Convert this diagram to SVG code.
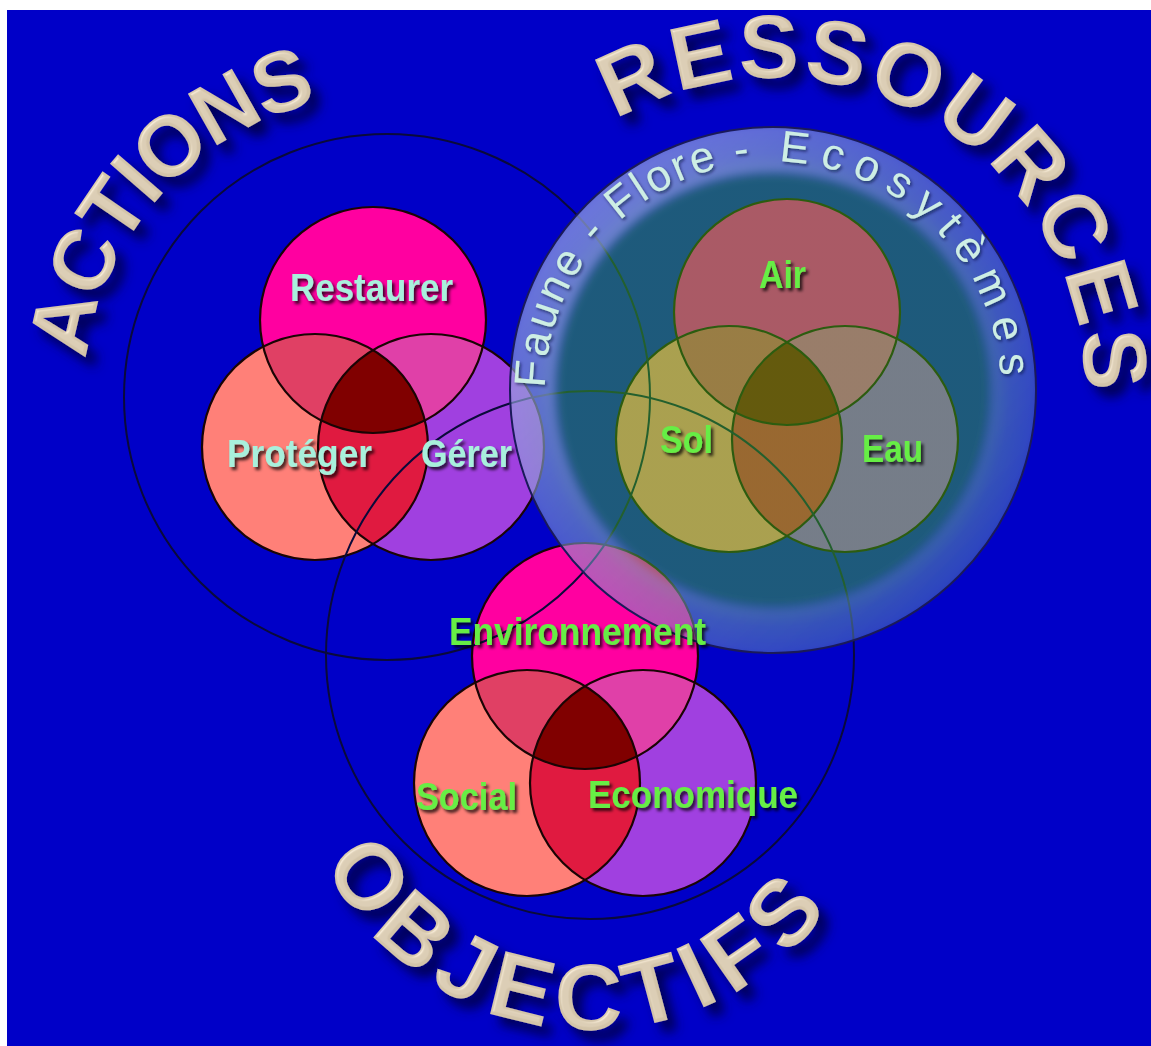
<svg xmlns="http://www.w3.org/2000/svg" width="1151" height="1046" viewBox="0 0 1151 1046">
<defs>
<style>
.c1{fill:#FF00A0}.c2{fill:#FF8078}.c3{fill:#A040E0}
.c12{fill:#E04064}.c13{fill:#E040A8}.c23{fill:#E01A40}.c123{fill:#800000}
.vs{fill:none;stroke:#1a0404;stroke-width:2.2}
.big{fill:none;stroke:#0a0a3a;stroke-width:2}
.title{font-family:"Liberation Sans",Arial,sans-serif;font-weight:bold;fill:#D3C4A9;filter:url(#emboss)}
.lab{font-family:"Liberation Sans",Arial,sans-serif;font-weight:bold;font-size:38px;text-anchor:middle;filter:url(#lshadow)}
.la{fill:#A8F0DC}.lg{fill:#66EE44}
.faune{font-family:"Liberation Sans",Arial,sans-serif;font-size:44px;fill:#CDEEE4;filter:url(#fshadow)}
</style>
<clipPath id="cT"><circle cx="0" cy="0" r="113"/></clipPath>
<clipPath id="cL"><circle cx="-58" cy="127" r="113"/></clipPath>
<clipPath id="clipGlobe"><circle cx="773" cy="390" r="263"/></clipPath>
<radialGradient id="glassTint" cx="0.5" cy="0.5" r="0.5">
<stop offset="0" stop-color="#42C81E" stop-opacity="0.45"/>
<stop offset="0.8" stop-color="#42C81E" stop-opacity="0.45"/>
<stop offset="0.9" stop-color="#42C81E" stop-opacity="0.25"/>
<stop offset="1" stop-color="#42C81E" stop-opacity="0.15"/>
</radialGradient>
<linearGradient id="rimGrad" x1="0" y1="0" x2="1" y2="1">
<stop offset="0" stop-color="#B4B4FF" stop-opacity="0.65"/>
<stop offset="0.5" stop-color="#8C96F0" stop-opacity="0.45"/>
<stop offset="1" stop-color="#5A78DC" stop-opacity="0.35"/>
</linearGradient>
<filter id="soft" x="-10%" y="-10%" width="120%" height="120%"><feGaussianBlur stdDeviation="5"/></filter>
<filter id="emboss" x="-20%" y="-20%" width="150%" height="150%">
<feGaussianBlur in="SourceAlpha" stdDeviation="6" result="b"/>
<feOffset in="b" dx="9" dy="10" result="ob"/>
<feFlood flood-color="#000038" flood-opacity="0.85"/>
<feComposite in2="ob" operator="in" result="shadow"/>
<feGaussianBlur in="SourceAlpha" stdDeviation="1.6" result="b2"/>
<feSpecularLighting in="b2" surfaceScale="3" specularConstant="0.45" specularExponent="14" lighting-color="#ffffff" result="spec">
<feDistantLight azimuth="225" elevation="40"/>
</feSpecularLighting>
<feComposite in="spec" in2="SourceAlpha" operator="in" result="specIn"/>
<feComposite in="SourceGraphic" in2="specIn" operator="arithmetic" k1="0" k2="1" k3="0.6" k4="0" result="lit"/>
<feMerge><feMergeNode in="shadow"/><feMergeNode in="lit"/></feMerge>
</filter>
<filter id="lshadow" x="-20%" y="-30%" width="140%" height="170%">
<feDropShadow dx="2.5" dy="3" stdDeviation="1.5" flood-color="#000000" flood-opacity="0.75"/>
</filter>
<filter id="fshadow" x="-10%" y="-10%" width="120%" height="120%">
<feDropShadow dx="1.5" dy="2" stdDeviation="1.5" flood-color="#001030" flood-opacity="0.6"/>
</filter>
<path id="pActions" d="M102.3,500.6 A303,303 0 0 1 490.6,112.3"/>
<path id="pRes" d="M479.8,283.3 A312,312 0 0 1 1080.3,444.2"/>
<path id="pObj" d="M299.5,786.2 A295,295 0 0 0 880.5,786.2"/>
<path id="pFaune" d="M545.9,409.9 A228,228 0 1 1 1000.1,409.9"/>
</defs>

<rect x="0" y="0" width="1151" height="1046" fill="#ffffff"/>
<rect x="7" y="10" width="1144" height="1036" fill="#0000C8"/>

<g id="titles">
<text class="title" font-size="86" letter-spacing="-3"><textPath href="#pActions" startOffset="47.5%" text-anchor="middle">ACTIONS</textPath></text>
<text class="title" font-size="90" letter-spacing="3"><textPath href="#pRes" startOffset="59%" text-anchor="middle">RESSOURCES</textPath></text>
<text class="title" font-size="94" letter-spacing="10"><textPath href="#pObj" startOffset="47.3%" text-anchor="middle">OBJECTIFS</textPath></text>
</g>

<g id="actions" transform="translate(373,320)">
<circle class="c1" cx="0" cy="0" r="113"/>
<circle class="c2" cx="-58" cy="127" r="113"/>
<circle class="c3" cx="58" cy="127" r="113"/>
<circle class="c12" cx="-58" cy="127" r="113" clip-path="url(#cT)"/>
<circle class="c13" cx="58" cy="127" r="113" clip-path="url(#cT)"/>
<circle class="c23" cx="58" cy="127" r="113" clip-path="url(#cL)"/>
<g clip-path="url(#cT)"><circle class="c123" cx="58" cy="127" r="113" clip-path="url(#cL)"/></g>
<circle class="vs" cx="0" cy="0" r="113"/>
<circle class="vs" cx="-58" cy="127" r="113"/>
<circle class="vs" cx="58" cy="127" r="113"/>
</g>

<g id="ressources" transform="translate(787,312)">
<circle class="c1" cx="0" cy="0" r="113"/>
<circle class="c2" cx="-58" cy="127" r="113"/>
<circle class="c3" cx="58" cy="127" r="113"/>
<circle class="c12" cx="-58" cy="127" r="113" clip-path="url(#cT)"/>
<circle class="c13" cx="58" cy="127" r="113" clip-path="url(#cT)"/>
<circle class="c23" cx="58" cy="127" r="113" clip-path="url(#cL)"/>
<g clip-path="url(#cT)"><circle class="c123" cx="58" cy="127" r="113" clip-path="url(#cL)"/></g>
<circle class="vs" cx="0" cy="0" r="113"/>
<circle class="vs" cx="-58" cy="127" r="113"/>
<circle class="vs" cx="58" cy="127" r="113"/>
</g>

<g id="objectifs" transform="translate(585,656)">
<circle class="c1" cx="0" cy="0" r="113"/>
<circle class="c2" cx="-58" cy="127" r="113"/>
<circle class="c3" cx="58" cy="127" r="113"/>
<circle class="c12" cx="-58" cy="127" r="113" clip-path="url(#cT)"/>
<circle class="c13" cx="58" cy="127" r="113" clip-path="url(#cT)"/>
<circle class="c23" cx="58" cy="127" r="113" clip-path="url(#cL)"/>
<g clip-path="url(#cT)"><circle class="c123" cx="58" cy="127" r="113" clip-path="url(#cL)"/></g>
<circle class="vs" cx="0" cy="0" r="113"/>
<circle class="vs" cx="-58" cy="127" r="113"/>
<circle class="vs" cx="58" cy="127" r="113"/>
</g>

<g id="connectors">
<circle class="big" cx="387" cy="397" r="263"/>
<circle class="big" cx="590" cy="655" r="264"/>
</g>

<g id="globe">
<circle cx="773" cy="390" r="263" fill="url(#glassTint)"/>
<g clip-path="url(#clipGlobe)">
<circle cx="773" cy="390" r="243" fill="none" stroke="url(#rimGrad)" stroke-width="52" filter="url(#soft)"/>
</g>
<circle cx="773" cy="390" r="263" fill="none" stroke="#1a1a5a" stroke-width="2"/>
<text class="faune"><textPath href="#pFaune" startOffset="22" letter-spacing="3">Faune - Flore - </textPath><textPath href="#pFaune" startOffset="384" letter-spacing="11">Ecosytèmes</textPath></text>
</g>

<g id="labels">
<text class="lab la" x="371.5" y="301" textLength="163" lengthAdjust="spacingAndGlyphs">Restaurer</text>
<text class="lab la" x="299.5" y="467" textLength="145" lengthAdjust="spacingAndGlyphs">Protéger</text>
<text class="lab la" x="466.5" y="467" textLength="91" lengthAdjust="spacingAndGlyphs">Gérer</text>
<text class="lab lg" x="782.5" y="288" textLength="47" lengthAdjust="spacingAndGlyphs">Air</text>
<text class="lab lg" x="686.5" y="453" textLength="53" lengthAdjust="spacingAndGlyphs">Sol</text>
<text class="lab lg" x="892.5" y="462" textLength="61" lengthAdjust="spacingAndGlyphs">Eau</text>
<text class="lab lg" x="577.5" y="645" textLength="257" lengthAdjust="spacingAndGlyphs">Environnement</text>
<text class="lab lg" x="466.5" y="810" textLength="101" lengthAdjust="spacingAndGlyphs">Social</text>
<text class="lab lg" x="693" y="808" textLength="210" lengthAdjust="spacingAndGlyphs">Economique</text>
</g>
</svg>
